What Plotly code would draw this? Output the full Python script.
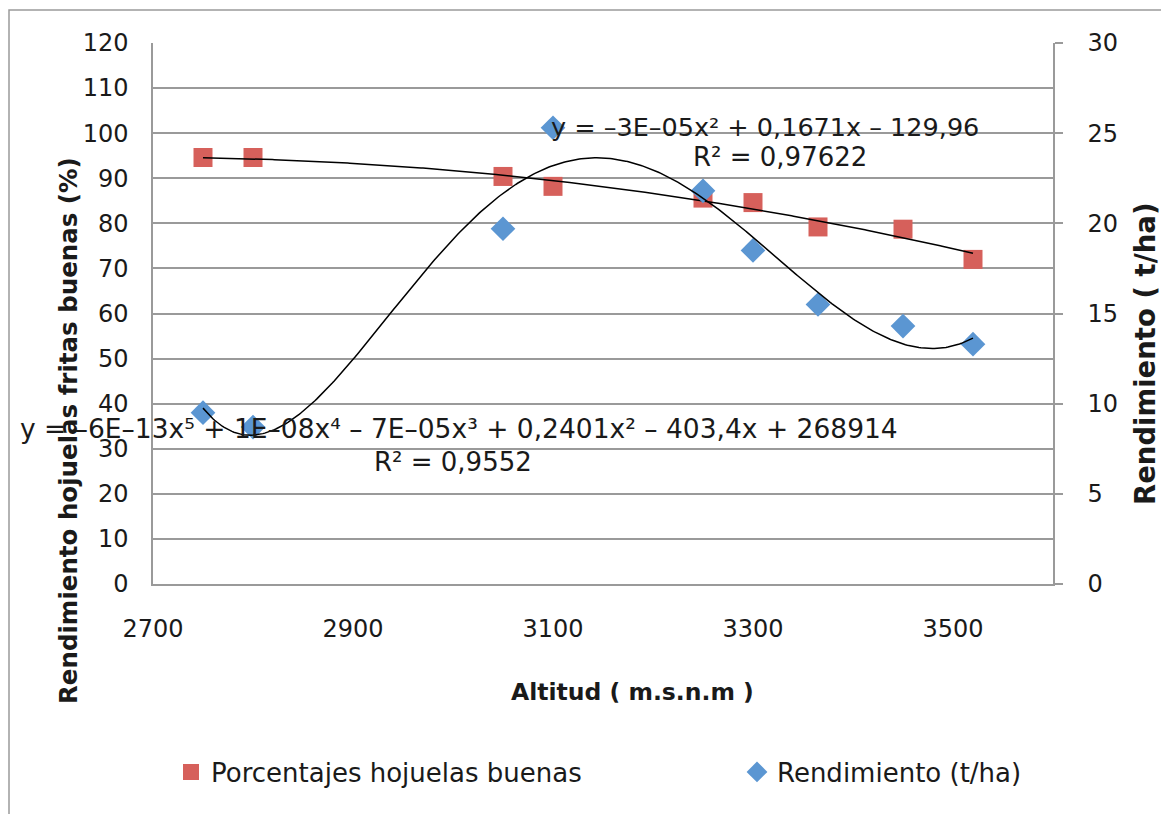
import numpy as np
import plotly.graph_objects as go

# ---- data ----
altitud = [2750, 2800, 3050, 3100, 3250, 3300, 3365, 3450, 3520]
porcentaje_buenas = [94.6, 94.6, 90.4, 88.2, 85.6, 84.6, 79.2, 78.7, 72.0]
rendimiento = [9.5, 8.7, 19.7, 25.3, 21.8, 18.5, 15.5, 14.3, 13.3]

x_ticks = [2700, 2900, 3100, 3300, 3500]

name_red = "Porcentajes hojuelas buenas"
name_blue = "Rendimiento (t/ha)"
eq_red = "y = –3E–05x² + 0,1671x – 129,96"
r2_red = "R² = 0,97622"
eq_blue = "y = –6E–13x⁵ + 1E–08x⁴ – 7E–05x³ + 0,2401x² – 403,4x + 268914"
r2_blue = "R² = 0,9552"

# ---- trend lines (least-squares polynomial fits of the data) ----
xs = np.linspace(min(altitud), max(altitud), 400)
p2 = np.polynomial.Polynomial.fit(altitud, porcentaje_buenas, 2)
p5 = np.polynomial.Polynomial.fit(altitud, rendimiento, 5)

FONT = "DejaVu Sans"
RED = "#D6605B"
BLUE = "#5B96D2"
GRID = "#9a9a9a"

# page body has an 8px default margin: compensate so the plot area lands at
# screen pixels x 153..1053, y 43..584
OFF = 8
L, T, PW, PH = 153 - OFF, 43 - OFF, 900, 541
W, H = 1169, 814


def px(x):
    return (x - 153) / PW


def py(y):
    return (584 - y) / PH


fig = go.Figure()
fig.add_trace(go.Scatter(x=altitud, y=porcentaje_buenas, mode="markers", name=name_red,
                         marker=dict(symbol="square", size=19, color=RED), yaxis="y",
                         legend="legend"))
fig.add_trace(go.Scatter(x=altitud, y=rendimiento, mode="markers", name=name_blue,
                         marker=dict(symbol="diamond", size=19, color=BLUE), yaxis="y2",
                         legend="legend2"))
fig.add_trace(go.Scatter(x=xs, y=p2(xs), mode="lines", line=dict(color="black", width=1.5),
                         showlegend=False, hoverinfo="skip", yaxis="y"))
fig.add_trace(go.Scatter(x=xs, y=p5(xs), mode="lines", line=dict(color="black", width=1.5),
                         showlegend=False, hoverinfo="skip", yaxis="y2"))

leg_common = dict(orientation="h", y=py(772), yanchor="middle", xanchor="left",
                  font=dict(size=26), itemwidth=30, bgcolor="rgba(0,0,0,0)")

fig.update_layout(
    width=W, height=H,
    margin=dict(l=L, r=W - L - PW, t=T, b=H - T - PH, autoexpand=False),
    paper_bgcolor="white", plot_bgcolor="white",
    font=dict(family=FONT, size=24, color="#1a1a1a"),
    xaxis=dict(range=[2700, 3600], tickvals=x_ticks, showgrid=False, zeroline=False,
               showline=True, linecolor=GRID, linewidth=1.5, ticks="",
               ticklabelstandoff=22, tickfont=dict(size=24)),
    yaxis=dict(range=[0, 120], dtick=10, showgrid=True, gridcolor=GRID, gridwidth=1.5,
               zeroline=False, showline=True, linecolor=GRID, linewidth=1.5, ticks="",
               ticklabelstandoff=18, tickfont=dict(size=24)),
    yaxis2=dict(range=[0, 30], dtick=5, overlaying="y", side="right", showgrid=False,
                zeroline=False, showline=True, linecolor=GRID, linewidth=1.5,
                ticks="outside", ticklen=8, tickcolor=GRID, tickwidth=1.5,
                ticklabelstandoff=20, tickfont=dict(size=24)),
    showlegend=True,
    legend=dict(x=px(171), **leg_common),
    legend2=dict(x=px(737), **leg_common),
)

# outer chart frame
fig.add_shape(type="rect", xref="paper", yref="paper", x0=px(9), x1=px(1200), y0=py(850), y1=py(10),
              line=dict(color=GRID, width=1.5), fillcolor="rgba(0,0,0,0)", layer="below")

# axis titles
fig.add_annotation(text="<b>Altitud ( m.s.n.m )</b>", xref="paper", yref="paper",
                   x=px(632), y=py(692), showarrow=False,
                   font=dict(size=23.5), xanchor="center", yanchor="middle")
fig.add_annotation(text="<b>Rendimiento hojuelas fritas buenas (%)</b>", xref="paper", yref="paper",
                   x=px(68), y=py(431), showarrow=False, textangle=-90,
                   font=dict(size=24.5), xanchor="center", yanchor="middle")
fig.add_annotation(text="<b>Rendimiento ( t/ha)</b>", xref="paper", yref="paper",
                   x=px(1145), y=py(354), showarrow=False, textangle=-90,
                   font=dict(size=27.5), xanchor="center", yanchor="middle")

# trend-line equations
fig.add_annotation(text=eq_red, xref="paper", yref="paper", x=px(765), y=py(127),
                   showarrow=False, font=dict(size=25.5), xanchor="center", yanchor="middle")
fig.add_annotation(text=r2_red, xref="paper", yref="paper", x=px(780), y=py(157),
                   showarrow=False, font=dict(size=26), xanchor="center", yanchor="middle")
fig.add_annotation(text=eq_blue, xref="paper", yref="paper", x=px(459), y=py(428),
                   showarrow=False, font=dict(size=26.5), xanchor="center", yanchor="middle")
fig.add_annotation(text=r2_blue, xref="paper", yref="paper", x=px(453), y=py(462),
                   showarrow=False, font=dict(size=26), xanchor="center", yanchor="middle")

fig.write_html("out.html")
